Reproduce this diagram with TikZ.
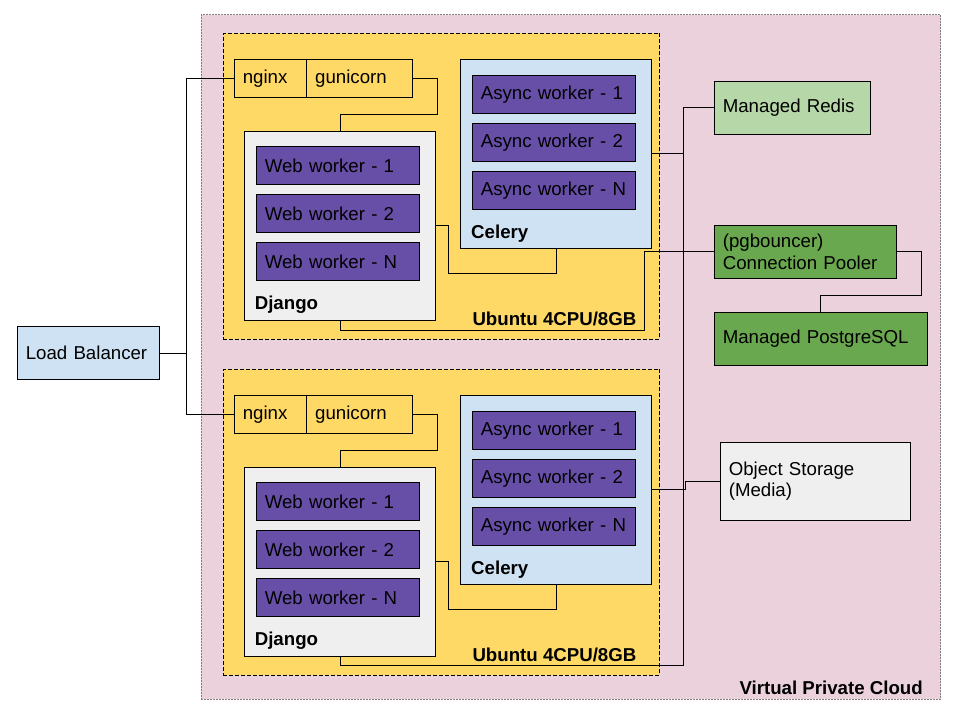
\documentclass[tikz,border=0pt]{standalone}
\usepackage{fontspec}
\setmainfont{Liberation Sans}
\usepackage{tikz}
\usetikzlibrary{positioning}
\definecolor{vpcpink}{HTML}{EAD1DC}
\definecolor{ubyellow}{HTML}{FFD966}
\definecolor{lgray}{HTML}{EFEFEF}
\definecolor{lblue}{HTML}{CFE2F3}
\definecolor{wpurple}{HTML}{674EA7}
\definecolor{lgreen}{HTML}{B6D7A8}
\definecolor{dgreen}{HTML}{6AA84F}

\begin{document}
\begin{tikzpicture}[x=1pt, y=-1pt, line width=1pt,
font=\fontsize{18.67}{21.6}\selectfont,
box/.style={draw=black, rectangle, inner xsep=8.5pt, inner ysep=0pt, align=left},
wrk/.style={box, fill=wpurple, minimum height=38pt, text width=146.4pt},
cont/.style={draw=black, rectangle, inner sep=0pt},
lbl/.style={inner sep=0pt, anchor=base west, font=\fontsize{18.67}{21.6}\selectfont\bfseries}]
\useasboundingbox (0,0) rectangle (960,720);

\node[cont, draw=gray, dash pattern=on 1.5pt off 1.5pt, fill=vpcpink, minimum width=739.4pt, minimum height=684.6pt](VPC) at (571,357) {};
\node[lbl](VPCt) at (739,694) {Virtual Private Cloud};

\node[box, fill=lblue, minimum height=52.7pt, text width=125.4pt](LB) at (88.5,353) {Load Balancer};

\node[cont, dash pattern=on 4pt off 2pt, fill=ubyellow, minimum width=436.4pt, minimum height=305.7pt](Ub1) at (441.5,186.2) {};
\node[lbl](Ub1t) at (472,325.5) {Ubuntu 4CPU/8GB};
\node[box, minimum height=38pt, text width=55.4pt](Ngx1) at (270.5,78.3) {nginx};
\node[box, minimum height=38pt, text width=88.6pt](Gun1) at (359.5,78.3) {gunicorn};
\node[cont, fill=lgray, minimum width=191.4pt, minimum height=188.7pt](Dj1) at (340,225.65) {};
\node[lbl](Dj1t) at (254.3,309.5) {Django};
\node[wrk](Ww11) at (338,165.8) {Web worker - 1};
\node[wrk](Ww12) at (338,213.8) {Web worker - 2};
\node[wrk](Ww1N) at (338,261.8) {Web worker - N};
\node[cont, fill=lblue, minimum width=191.4pt, minimum height=189pt](Cel1) at (556,153.8) {};
\node[lbl](Cel1t) at (470.7,238.4) {Celery};
\node[wrk](Aw11) at (554,94.2) {Async worker - 1};
\node[wrk](Aw12) at (554,142.2) {Async worker - 2};
\node[wrk](Aw1N) at (554,190.2) {Async worker - N};
	\draw (Gun1.east) -| (437.3,114.3) -| (Dj1.north);
	\draw (Dj1.east) -| (448.3,273.3) -| (Cel1.south);

\node[cont, dash pattern=on 4pt off 2pt, fill=ubyellow, minimum width=436.4pt, minimum height=305.7pt](Ub2) at (441.5,522.2) {};
\node[lbl](Ub2t) at (472,661.5) {Ubuntu 4CPU/8GB};
\node[box, minimum height=38pt, text width=55.4pt](Ngx2) at (270.5,414.3) {nginx};
\node[box, minimum height=38pt, text width=88.6pt](Gun2) at (359.5,414.3) {gunicorn};
\node[cont, fill=lgray, minimum width=191.4pt, minimum height=188.7pt](Dj2) at (340,561.65) {};
\node[lbl](Dj2t) at (254.3,645.5) {Django};
\node[wrk](Ww21) at (338,501.8) {Web worker - 1};
\node[wrk](Ww22) at (338,549.8) {Web worker - 2};
\node[wrk](Ww2N) at (338,597.8) {Web worker - N};
\node[cont, fill=lblue, minimum width=191.4pt, minimum height=189pt](Cel2) at (556,489.8) {};
\node[lbl](Cel2t) at (470.7,574.4) {Celery};
\node[wrk](Aw21) at (554,430.2) {Async worker - 1};
\node[wrk](Aw22) at (554,478.2) {Async worker - 2};
\node[wrk](Aw2N) at (554,526.2) {Async worker - N};
	\draw (Gun2.east) -| (437.3,450.3) -| (Dj2.north);
	\draw (Dj2.east) -| (448.3,609.3) -| (Cel2.south);

\coordinate (LBj) at (186.7,353);
	\draw (LB.east) -- (LBj) |- (Ngx1.west);
	\draw (LBj) |- (Ngx2.west);

\node[box, fill=lgreen, minimum height=52.7pt, text width=139pt](Red) at (792.3,107.65) {Managed Redis};
\node[box, fill=dgreen, minimum height=53pt, text width=165pt](Pool) at (805.3,251.8) {(pgbouncer)\\Connection Pooler};
\node[box, fill=dgreen, minimum height=52.7pt, text width=196pt](Pg) at (820.8,338.65) {Managed PostgreSQL};
\node[box, fill=lgray, minimum height=77.7pt, text width=173.4pt](Obj) at (815.5,481.15) {Object Storage\\(Media)};

\coordinate (BusT) at (683.3,107.65);
\coordinate (BusB) at (683.3,665.3);
	\draw (Cel1.east) -| (BusT) -- (Red.west);
	\draw (Dj2.south) |- (BusB) -- (BusT);
	\draw (Dj1.south) |- (644.3,330) |- (Pool.west);
	\draw (Pool.east) -| (921.3,295.3) -| (Pg.north);
	\draw (Cel2.east) -| (685.3,481.15) -- (Obj.west);
\end{tikzpicture}
\end{document}
